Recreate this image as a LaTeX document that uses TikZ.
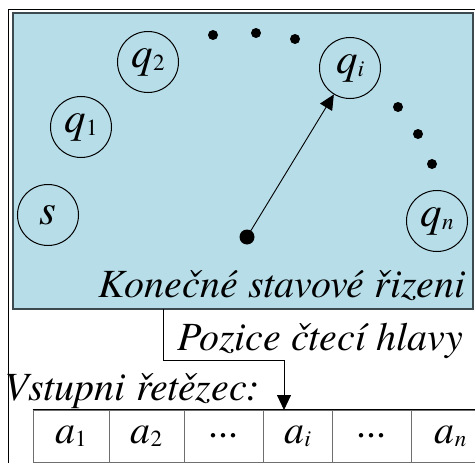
\documentclass[tikz,border=0pt]{standalone}
\usepackage{fontspec}
\setmainfont{TeX Gyre Termes}
\usetikzlibrary{arrows.meta}
\definecolor{boxblue}{RGB}{183,221,232}
\definecolor{boxedge}{RGB}{60,74,80}
\definecolor{gridgrey}{RGB}{110,110,110}
\newcommand{\bigfont}{\fontsize{40}{40}\selectfont}
\newcommand{\statefont}{\fontsize{43}{43}\selectfont}
\newcommand{\subfont}{\fontsize{23}{23}\selectfont}
\newcommand{\symsub}[2]{{\itshape #1}\raisebox{-3pt}{\subfont #2}}
\begin{document}
\begin{tikzpicture}[x=1pt,y=-1pt,
  statebox/.style={circle,draw,line width=1pt,minimum size=61pt,inner sep=0pt,font=\statefont},
  dotmark/.style={circle,fill,inner sep=0pt,minimum size=10pt},
  headmark/.style={circle,fill,inner sep=0pt,minimum size=15pt},
  lbl/.style={font=\bigfont\itshape,inner sep=0pt},
  cellbox/.style={draw=gridgrey,line width=0.9pt,minimum height=52pt,inner sep=0pt,font=\bigfont},
  arr/.style={line width=0.9pt,-{Triangle[length=15pt,width=14pt]}}
]
\useasboundingbox (0,0) rectangle (475,463);
\begin{scope}
\clip (0,0) rectangle (475,463);
% outer frame
\draw[line width=1.6pt] (8.5,9.5) rectangle (490,480);
% blue control box
\node[draw=boxedge,fill=boxblue,line width=1.4pt,minimum width=460pt,minimum height=296pt,inner sep=0pt] (ctrl) at (243,161) {};
% states
\node[statebox] (s) at (48,215) {\itshape s};
\node[statebox] (q1) at (81,127) {\symsub{q}{1}};
\node[statebox] (q2) at (148,62) {\symsub{q}{2}};
\node[statebox] (qi) at (350,68) {\symsub{q}{\itshape i}};
\node[statebox] (qn) at (437,221) {\symsub{q}{\itshape n}};
% dots
\node[dotmark] (d1) at (213,35) {};
\node[dotmark] (d2) at (256,33) {};
\node[dotmark] (d3) at (295,39) {};
\node[dotmark] (d4) at (398,107) {};
\node[dotmark] (d5) at (418,134) {};
\node[dotmark] (d6) at (432,164) {};
% head
\node[headmark] (hd) at (247,237) {};
\draw[arr] (hd.center) -- (qi);
% labels
\node[lbl,anchor=base east] (kss) at (466,297) {Konečné stavové řizeni};
\node[lbl,anchor=base east] (pch) at (463,350) {Pozice čtecí hlavy};
\node[lbl,anchor=base west] (vr) at (4,400) {Vstupni řetězec:};
% tape
\node[cellbox,minimum width=76pt] (c1) at (71,436) {\symsub{a}{1}};
\node[cellbox,minimum width=75pt] (c2) at (146.5,436) {\symsub{a}{2}};
\node[cellbox,minimum width=79pt] (c3) at (223.5,436) {...};
\node[cellbox,minimum width=69pt] (c4) at (297.5,436) {\symsub{a}{\itshape i}};
\node[cellbox,minimum width=79pt] (c5) at (371.5,436) {...};
\node[cellbox,minimum width=79pt] (c6) at (450.5,436) {\symsub{a}{\itshape n}};
\draw[line width=0.9pt] (c1.north west) -- (c6.north east);
% head position connector
\coordinate (hs) at (163,309);
\coordinate (ht) at (284,410);
\draw[arr] (hs) -- ++(0,51) -| (ht);
\end{scope}
\end{tikzpicture}
\end{document}
